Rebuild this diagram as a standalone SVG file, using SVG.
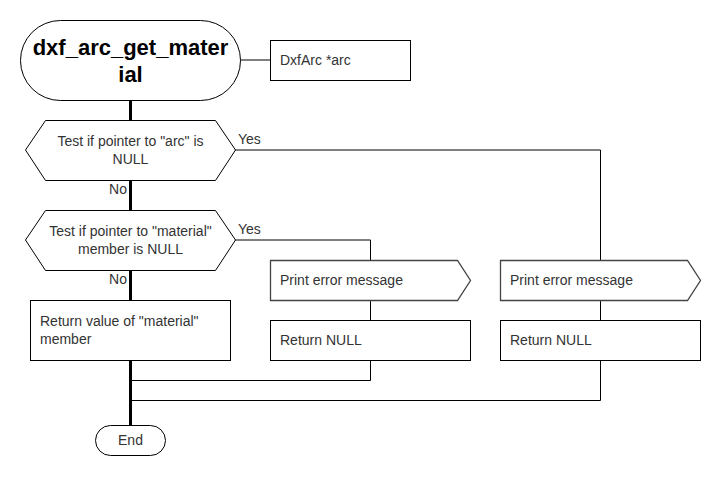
<svg xmlns="http://www.w3.org/2000/svg" width="720" height="480" viewBox="0 0 720 480">
<style>
.shape{fill:#fff;stroke:#000;stroke-width:1}
.gray{fill:#fff;stroke:#444;stroke-width:1.3}
.t{font-family:"Liberation Sans",Arial,sans-serif;font-size:14px;fill:#333}
.title{font-family:"Liberation Sans",Arial,sans-serif;font-size:22px;font-weight:bold;fill:#000}
.thin{fill:none;stroke:#000;stroke-width:1}
.thick{fill:none;stroke:#000;stroke-width:3}
</style>
<rect width="720" height="480" fill="#fff"/>
<g id="connectors">
<path class="thick" d="M130.5 100V120M130.5 180V210M130.5 270V300M130.5 360V425"/>
<path class="thin" d="M240 60H270"/>
<path class="thin" d="M235 150H600.5V260"/>
<path class="thin" d="M235 240H370.5V260"/>
<path class="thin" d="M370.5 300V320"/>
<path class="thin" d="M600.5 300V320"/>
<path class="thin" d="M370.5 360V380.5H130"/>
<path class="thin" d="M600.5 360V400.5H130"/>
<text class="t" x="238" y="144">Yes</text>
<text class="t" x="238" y="234">Yes</text>
<text class="t" x="127" y="194" text-anchor="end">No</text>
<text class="t" x="127" y="284" text-anchor="end">No</text>
</g>
<g id="start">
<rect class="shape" x="20.5" y="20.5" width="220" height="80" rx="40" ry="40"/>
<text class="title" x="130.5" y="55" text-anchor="middle">dxf_arc_get_mater</text>
<text class="title" x="130.5" y="82" text-anchor="middle">ial</text>
</g>
<g id="param">
<rect class="shape" x="270.5" y="40.5" width="140" height="40"/>
<text class="t" x="280" y="65">DxfArc *arc</text>
</g>
<g id="decision1">
<polygon class="shape" points="25.5,150 45.5,120.5 215.5,120.5 235.5,150 215.5,180.5 45.5,180.5"/>
<text class="t" x="130.5" y="146" text-anchor="middle">Test if pointer to "arc" is</text>
<text class="t" x="130.5" y="164" text-anchor="middle">NULL</text>
</g>
<g id="decision2">
<polygon class="shape" points="25.5,240 45.5,210.5 215.5,210.5 235.5,240 215.5,270.5 45.5,270.5"/>
<text class="t" x="130.5" y="236" text-anchor="middle">Test if pointer to "material"</text>
<text class="t" x="130.5" y="254" text-anchor="middle">member is NULL</text>
</g>
<g id="returnValue">
<rect class="shape" x="30.5" y="300.5" width="200" height="60"/>
<text class="t" x="40" y="326">Return value of "material"</text>
<text class="t" x="40" y="344">member</text>
</g>
<g id="print1">
<polygon class="gray" points="270.5,260.5 457.5,260.5 470.5,280.5 457.5,300.5 270.5,300.5"/>
<text class="t" x="280" y="285">Print error message</text>
</g>
<g id="returnNull1">
<rect class="shape" x="270.5" y="320.5" width="200" height="40"/>
<text class="t" x="280" y="345">Return NULL</text>
</g>
<g id="print2">
<polygon class="gray" points="500.5,260.5 687.5,260.5 700.5,280.5 687.5,300.5 500.5,300.5"/>
<text class="t" x="510" y="285">Print error message</text>
</g>
<g id="returnNull2">
<rect class="shape" x="500.5" y="320.5" width="200" height="40"/>
<text class="t" x="510" y="345">Return NULL</text>
</g>
<g id="end">
<rect class="shape" x="95.5" y="425.5" width="70" height="30" rx="15" ry="15"/>
<text class="t" x="130.5" y="445" text-anchor="middle">End</text>
</g>
</svg>
